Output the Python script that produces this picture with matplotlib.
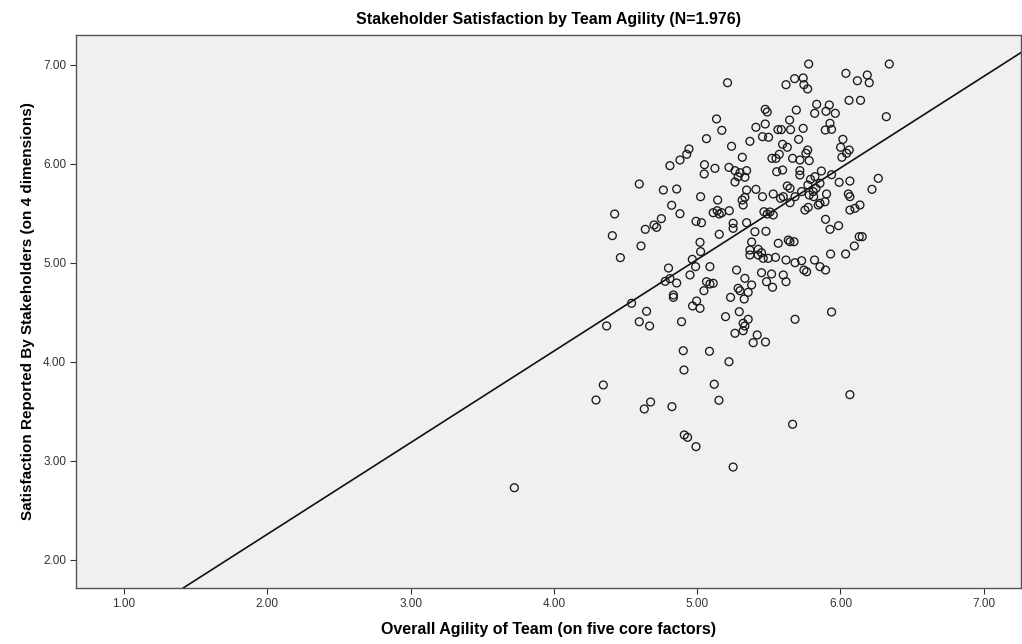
import matplotlib
matplotlib.use("Agg")
import matplotlib.pyplot as plt

# Data
agility = [
    4.943, 4.927, 4.880, 4.810, 4.596, 4.764, 4.857,
    5.778, 6.038, 6.118, 5.212, 5.620, 5.680, 5.740, 5.745, 5.771, 5.834, 5.922, 5.820, 5.899,
    5.964, 6.060, 6.140, 5.475, 5.489, 5.692, 5.135, 5.172, 5.645, 5.475, 5.410, 5.564, 5.587,
    5.652, 5.740, 5.894, 5.938, 5.927, 5.456, 5.498, 5.708, 5.065, 5.368, 5.240, 5.596, 5.629,
    6.017, 6.001, 6.061, 6.043, 6.010, 5.771, 5.759, 5.315, 5.522, 5.550, 5.573, 5.666, 5.717,
    5.782, 5.051, 5.049, 5.124, 5.222, 5.264, 5.299, 5.345, 5.286, 5.333, 5.264, 5.555, 5.596,
    5.717, 5.717, 5.867, 5.938, 5.791, 5.822, 5.857, 5.991, 6.066, 5.629, 5.648, 5.773, 5.810,
    5.829, 5.903, 5.024, 5.143, 5.345, 5.410, 5.333, 5.456, 5.531, 5.601, 5.683, 5.729, 6.055,
    6.066,
    6.341, 6.187, 6.201, 6.320, 6.264, 6.220,
    4.424, 4.408, 4.464, 4.608, 4.638, 4.699, 4.717, 4.750, 4.822, 4.880, 4.992, 4.966, 4.989,
    4.950, 4.800, 4.777, 4.810, 4.857, 4.834, 4.834, 4.542, 4.996, 4.968, 4.647, 4.596, 4.668,
    4.891, 4.368,
    5.030, 5.112, 5.140, 5.154, 5.171, 5.224, 5.321, 5.314, 5.582, 5.782, 5.813, 5.857, 5.892,
    5.845, 5.752, 5.775, 5.648, 6.066, 6.101, 5.466, 5.489, 5.508, 5.531, 5.345, 5.251, 5.251,
    5.154, 5.403, 5.480, 5.896, 5.987, 5.927, 6.131, 5.020, 5.024, 5.089, 5.380, 5.368, 5.426,
    5.449, 5.368, 5.426, 5.461, 5.496, 5.547, 5.566, 5.636, 5.648, 5.676, 5.620, 5.683, 5.729,
    5.819, 5.857, 5.896, 5.745, 5.764, 5.931, 6.036, 6.097, 5.275, 5.333, 5.380, 5.286, 5.299,
    5.356, 5.449, 5.519, 5.484, 5.526, 5.601, 5.620, 5.233, 5.328, 5.065, 5.089, 5.112, 5.047,
    5.020, 5.198, 5.294, 5.356, 5.321, 5.333, 5.321, 5.264, 5.419, 5.683, 5.938,
    6.136, 6.152,
    4.345, 4.294, 3.724, 4.903, 4.908, 4.675, 4.631, 4.824, 4.910, 4.933, 4.992,
    5.391, 5.477, 5.086, 5.222, 5.119, 5.152, 6.066, 5.666, 5.251,
]
satisfaction = [
    6.152, 6.098, 6.040, 5.983, 5.798, 5.737, 5.747,
    7.010, 6.916, 6.841, 6.821, 6.801, 6.862, 6.869, 6.801, 6.758, 6.603, 6.596, 6.512, 6.532,
    6.512, 6.643, 6.643, 6.552, 6.525, 6.545, 6.455, 6.340, 6.444, 6.404, 6.371, 6.347, 6.347,
    6.347, 6.360, 6.343, 6.350, 6.411, 6.276, 6.270, 6.249, 6.256, 6.229, 6.179, 6.199, 6.169,
    6.249, 6.169, 6.141, 6.108, 6.068, 6.141, 6.108, 6.068, 6.057, 6.057, 6.098, 6.057, 6.040,
    6.034, 5.993, 5.899, 5.956, 5.966, 5.933, 5.912, 5.933, 5.872, 5.866, 5.818, 5.922, 5.939,
    5.933, 5.889, 5.929, 5.892, 5.845, 5.872, 5.805, 5.815, 5.828, 5.778, 5.754, 5.788, 5.721,
    5.754, 5.697, 5.670, 5.636, 5.737, 5.744, 5.663, 5.670, 5.697, 5.670, 5.670, 5.721, 5.697,
    5.670,
    7.010, 6.899, 6.821, 6.478, 5.855, 5.744,
    5.495, 5.276, 5.054, 5.172, 5.340, 5.384, 5.360, 5.448, 5.583, 5.498, 5.421, 5.037, 4.963,
    4.879, 4.949, 4.815, 4.842, 4.798, 4.677, 4.653, 4.593, 4.616, 4.566, 4.512, 4.407, 4.364,
    4.407, 4.364,
    5.407, 5.508, 5.528, 5.495, 5.508, 5.528, 5.586, 5.636, 5.653, 5.687, 5.670, 5.603, 5.619,
    5.586, 5.535, 5.562, 5.609, 5.535, 5.552, 5.518, 5.495, 5.515, 5.485, 5.407, 5.401, 5.350,
    5.290, 5.316, 5.320, 5.441, 5.377, 5.340, 5.266, 5.209, 5.115, 4.963, 5.212, 5.131, 5.138,
    5.104, 5.081, 5.081, 5.047, 5.047, 5.057, 5.199, 5.232, 5.215, 5.215, 5.030, 5.003, 5.023,
    5.030, 4.963, 4.929, 4.929, 4.912, 5.091, 5.091, 5.172, 4.929, 4.845, 4.778, 4.744, 4.720,
    4.704, 4.902, 4.889, 4.811, 4.755, 4.879, 4.811, 4.653, 4.636, 4.811, 4.788, 4.795, 4.720,
    4.542, 4.458, 4.508, 4.431, 4.391, 4.364, 4.316, 4.290, 4.273, 4.431, 4.505,
    5.586, 5.266,
    3.768, 3.616, 2.730, 4.114, 3.919, 3.596, 3.525, 3.549, 3.263, 3.239, 3.145,
    4.195, 4.202, 4.108, 4.003, 3.775, 3.613, 3.670, 3.371, 2.939,
]

fit_intercept = 0.41
fit_slope = 0.925

title = "Stakeholder Satisfaction by Team Agility (N=1.976)"
xlabel = "Overall Agility of Team (on five core factors)"
ylabel = "Satisfaction Reported By Stakeholders (on 4 dimensions)"
xticks = [1, 2, 3, 4, 5, 6, 7]
yticks = [2, 3, 4, 5, 6, 7]

fam = ["Liberation Sans", "DejaVu Sans"]

fig = plt.figure(figsize=(10.22, 6.44), dpi=100)
ax = fig.add_axes([76 / 1022, 56 / 644, 945 / 1022, 553 / 644])
ax.set_facecolor("#F0F0F0")

ax.scatter(agility, satisfaction, s=32, facecolors="none", edgecolors="#1a1a1a",
           linewidths=0.95, zorder=3)
ax.axline((0, fit_intercept), slope=fit_slope, color="#111111", lw=1.2, zorder=2)

ax.set_xlim(0.665, 7.26)
ax.set_ylim(1.717, 7.303)
ax.set_xticks(xticks)
ax.set_xticklabels([f"{v:.2f}" for v in xticks])
ax.set_yticks(yticks)
ax.set_yticklabels([f"{v:.2f}" for v in yticks])

for lab in ax.get_xticklabels() + ax.get_yticklabels():
    lab.set_fontfamily(fam)
    lab.set_fontsize(8.5)
    lab.set_color("#333333")
ax.tick_params(direction="out", length=4, width=0.8, color="#333333", pad=3)

for sp in ax.spines.values():
    sp.set_color("#555555")
    sp.set_linewidth(1.0)

ax.set_title(title, fontsize=11.5, fontweight="bold", family=fam, pad=8)
ax.set_xlabel(xlabel, fontsize=11.5, fontweight="bold", family=fam, labelpad=9)
ax.set_ylabel(ylabel, fontsize=11, fontweight="bold", family=fam, labelpad=6)

fig.savefig("out.png", dpi=100, facecolor="white")
